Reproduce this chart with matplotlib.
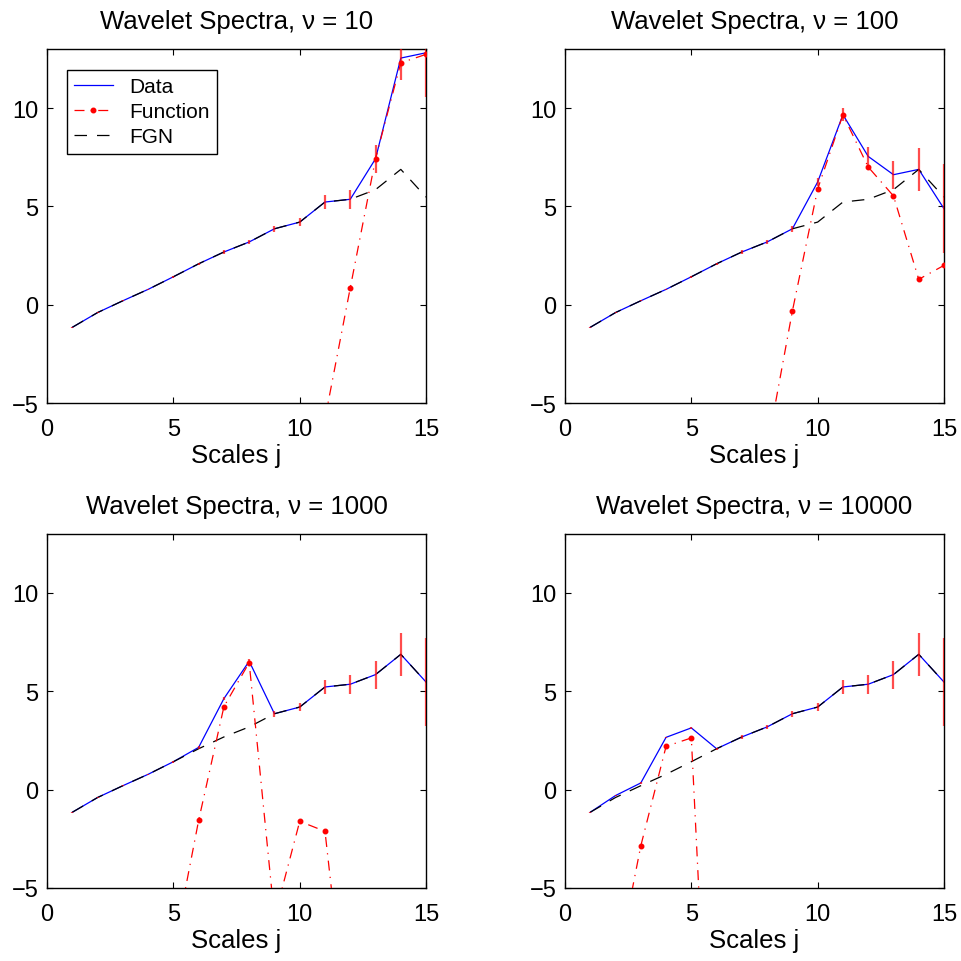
import numpy as np
import matplotlib
matplotlib.use("Agg")
import matplotlib.pyplot as plt

plt.rcParams['font.family'] = ['Liberation Sans', 'DejaVu Sans']

nan = np.nan
scales = np.arange(1, 16)

# common FGN fit
fgn = [-1.15, -0.4, 0.2, 0.78, 1.42, 2.08, 2.68, 3.19, 3.86, 4.2,
       5.22, 5.36, 5.85, 6.88, 5.47]
# error bar half widths per scale
err = [0.02, 0.03, 0.03, 0.04, 0.05, 0.06, 0.08, 0.11, 0.15, 0.22,
       0.34, 0.49, 0.71, 1.09, 2.25]

nus = [10, 100, 1000, 10000]

data_10 = fgn[:12] + [7.42, 12.54, 12.81]
func_10 = [nan] * 10 + [-5.8, 0.86, 7.42, 12.3, 12.73]

data_100 = fgn[:9] + [6.24, 9.66, 7.54, 6.61, 6.88, 4.88]
func_100 = [nan] * 7 + [-7.3, -0.32, 5.88, 9.66, 7.0, 5.53, 1.29, 2.0]

data_1000 = fgn[:5] + [2.15, 4.63, 6.53] + fgn[8:]
func_1000 = [nan] * 4 + [-8.2, -1.56, 4.22, 6.46, -6.5, -1.61, -2.12, -13.6,
                         nan, nan, nan]

data_10000 = fgn[:1] + [-0.3, 0.34, 2.66, 3.14] + fgn[5:]
func_10000 = [nan, -9.4, -2.86, 2.2, 2.63, -23.5] + [nan] * 9

datas = [data_10, data_100, data_1000, data_10000]
funcs = [func_10, func_100, func_1000, func_10000]

fig = plt.figure(figsize=(9.62, 9.62), dpi=100)
lefts = [0.0489, 0.5873, 0.0489, 0.5873]
bottoms = [0.580, 0.580, 0.0759, 0.0759]
w, h = 0.394, 0.368

for k in range(4):
    ax = fig.add_axes([lefts[k], bottoms[k], w, h])
    d = np.array(datas[k])
    ax.plot(scales, d, color='blue', lw=0.9, zorder=2, label='Data')
    ax.plot(scales, funcs[k], color='red', lw=0.9, ls=(0, (8, 5, 1, 5)),
            marker='.', markersize=6.5, zorder=4, label='Function')
    ax.plot(scales, fgn, color='black', lw=0.9, ls=(0, (10, 8)),
            zorder=3, label='FGN')
    ax.errorbar(scales, d, yerr=err, fmt='none', ecolor='red', elinewidth=1.6,
                alpha=0.7, capsize=0, zorder=5)
    ax.set_xlim(0, 15)
    ax.set_ylim(-5, 13)
    ax.set_xticks([0, 5, 10, 15])
    ax.set_yticks([-5, 0, 5, 10])
    ax.tick_params(direction='in', top=True, right=True, length=4,
                   labelsize=17)
    ax.tick_params(axis='x', pad=11)
    ax.tick_params(axis='y', pad=6)
    for s in ax.spines.values():
        s.set_linewidth(1.0)
    ax.set_title('Wavelet Spectra, \u03bd = %d' % nus[k], fontsize=18.5, pad=15)
    ax.set_xlabel('Scales j', fontsize=18.5, labelpad=2)
    if k == 0:
        leg = ax.legend(loc='upper left', bbox_to_anchor=(0.052, 0.942),
                        borderaxespad=0, fontsize=15, fancybox=False,
                        framealpha=1, edgecolor='black', handlelength=1.85,
                        borderpad=0.35, labelspacing=0.3, handletextpad=0.8)
        leg.get_frame().set_linewidth(1.0)

fig.savefig('out.png', dpi=100)
